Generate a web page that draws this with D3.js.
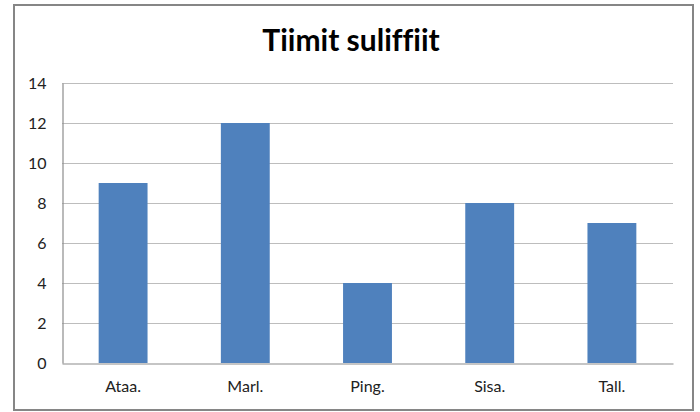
<!DOCTYPE html>
<html>
<head>
<meta charset="utf-8">
<script src="https://cdn.jsdelivr.net/npm/d3@7"></script>
<style>
  body { margin: 0; background: #fff; }
  svg { display: block; }
  text { font-variant-ligatures: none; font-feature-settings: "liga" 0; }
</style>
</head>
<body>
<div id="chart"></div>
<script>
const categories = ['Ataa.', 'Marl.', 'Ping.', 'Sisa.', 'Tall.'];
const values = [9, 12, 4, 8, 7];
const yTicks = [0, 2, 4, 6, 8, 10, 12, 14];
const title = 'Tiimit suliffiit';

const width = 700;
const height = 412;
const font = 'Lato, "Open Sans", sans-serif';

const svg = d3.select('#chart').append('svg')
  .attr('width', width)
  .attr('height', height);

svg.append('rect')
  .attr('x', 14).attr('y', 5)
  .attr('width', 679).attr('height', 405)
  .attr('fill', '#fff')
  .attr('stroke', '#868686')
  .attr('stroke-width', 2);

const x = d3.scaleBand()
  .domain(categories)
  .range([62, 673])
  .paddingInner(0.6)
  .paddingOuter(0.3);

const y = d3.scaleLinear()
  .domain([0, 14])
  .range([363, 83]);

// gridlines
svg.append('g')
  .selectAll('line')
  .data(yTicks.filter((d) => d > 0))
  .join('line')
  .attr('x1', 62).attr('x2', 673)
  .attr('y1', (d) => y(d) + 0.5).attr('y2', (d) => y(d) + 0.5)
  .attr('stroke', '#bdbdbd')
  .attr('stroke-width', 1.2);

// bars
svg.append('g')
  .selectAll('rect')
  .data(values)
  .join('rect')
  .attr('x', (d, i) => x(categories[i]))
  .attr('y', (d) => y(d))
  .attr('width', x.bandwidth())
  .attr('height', (d) => y(0) - y(d))
  .attr('fill', '#4f81bd');

// axes
const yAxis = svg.append('g')
  .attr('transform', 'translate(62.5,0)')
  .call(d3.axisLeft(y).tickValues(yTicks).tickSize(0).tickPadding(16));
yAxis.select('.domain').attr('stroke', '#8c8c8c').attr('stroke-width', 1.2);
yAxis.selectAll('text')
  .attr('font-family', font).attr('font-size', 16).attr('fill', '#222');

const xAxis = svg.append('g')
  .attr('transform', `translate(0,${y(0) + 0.5})`)
  .call(d3.axisBottom(x).tickSize(0).tickPadding(17));
xAxis.select('.domain').attr('stroke', '#8c8c8c').attr('stroke-width', 1.2);
xAxis.selectAll('text')
  .attr('font-family', font).attr('font-size', 16).attr('fill', '#222');

svg.append('text')
  .attr('x', 351).attr('y', 51)
  .attr('text-anchor', 'middle')
  .attr('font-family', font)
  .attr('font-weight', 'bold')
  .attr('font-size', 30)
  .attr('fill', '#000')
  .text(title);
</script>
</body>
</html>
